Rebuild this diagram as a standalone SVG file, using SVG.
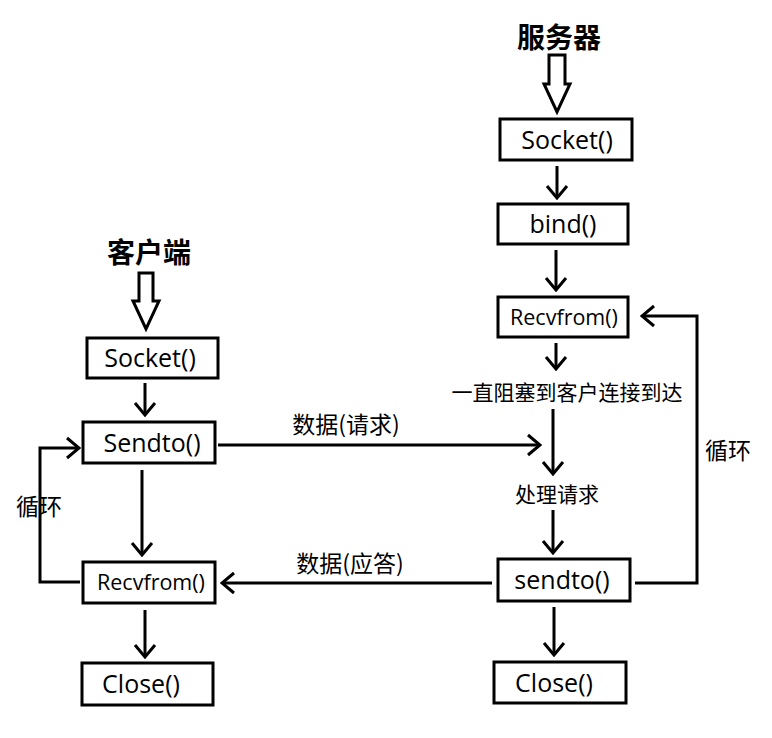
<svg xmlns="http://www.w3.org/2000/svg" width="772" height="738" viewBox="0 0 772 738">
<style>
.box{fill:#fff;stroke:#000;stroke-width:3}
.t{font-family:"Open Sans","Noto Sans CJK SC",sans-serif;font-size:25px;fill:#000;text-anchor:middle}
.s{font-size:21.5px}
.cn{font-family:"Noto Sans CJK SC",sans-serif;font-size:21px;fill:#000;text-anchor:middle}
.lb{font-size:23px}
.title{font-family:"Noto Sans CJK SC",sans-serif;font-size:28px;font-weight:bold;fill:#000;text-anchor:middle}
.ln{fill:none;stroke:#000;stroke-width:3}
.hollow{fill:#fff;stroke:#000;stroke-width:3;stroke-linejoin:miter}
</style>
<defs>
<marker id="ah" markerUnits="userSpaceOnUse" viewBox="-16 -13 18 26" markerWidth="18" markerHeight="26" refX="0" refY="0" orient="auto">
<path d="M-12,-10 L0,0 L-12,10" fill="none" stroke="#000" stroke-width="3"/>
</marker>
</defs>
<rect width="772" height="738" fill="#fff"/>

<g id="server-title">
<text class="title" x="559" y="48">服务器</text>
<path class="hollow" d="M549,55 L565,55 L565,84 L570,84 L557,112 L544,84 L549,84 Z"/>
</g>
<g id="client-title">
<text class="title" x="149" y="263">客户端</text>
<path class="hollow" d="M139,273 L153,273 L153,301 L159,301 L146,329 L133,301 L139,301 Z"/>
</g>

<g id="s-socket"><rect class="box" x="500" y="119" width="132" height="41"/><text class="t" x="567" y="149">Socket()</text></g>
<g id="s-bind"><rect class="box" x="498" y="204" width="130" height="40"/><text class="t" x="563" y="233">bind()</text></g>
<g id="s-recvfrom"><rect class="box" x="498" y="297" width="130" height="40"/><text class="t s" x="564" y="325">Recvfrom()</text></g>
<g id="s-block"><text class="cn" x="567" y="400">一直阻塞到客户连接到达</text></g>
<g id="s-process"><text class="cn" x="557" y="502">处理请求</text></g>
<g id="s-sendto"><rect class="box" x="498" y="559" width="132" height="42"/><text class="t" x="562" y="589">sendto()</text></g>
<g id="s-close"><rect class="box" x="494" y="662" width="132" height="41"/><text class="t" x="554" y="692">Close()</text></g>

<g id="c-socket"><rect class="box" x="87" y="338" width="131" height="40"/><text class="t" x="150" y="367">Socket()</text></g>
<g id="c-sendto"><rect class="box" x="83" y="422" width="132" height="41"/><text class="t" x="152" y="452">Sendto()</text></g>
<g id="c-recvfrom"><rect class="box" x="83" y="562" width="132" height="41"/><text class="t s" x="151" y="590">Recvfrom()</text></g>
<g id="c-close"><rect class="box" x="82" y="663" width="131" height="42"/><text class="t" x="141" y="693">Close()</text></g>

<g id="labels">
<text class="cn lb" x="346" y="433">数据(请求)</text>
<text class="cn lb" x="350" y="572">数据(应答)</text>
<text class="cn lb" x="728" y="459">循环</text>
<text class="cn lb" x="39" y="515">循环</text>
</g>

<g id="connectors">
<line class="ln" x1="557" y1="166" x2="557" y2="198" marker-end="url(#ah)"/>
<line class="ln" x1="556" y1="250" x2="556" y2="290" marker-end="url(#ah)"/>
<line class="ln" x1="556" y1="343" x2="556" y2="369" marker-end="url(#ah)"/>
<line class="ln" x1="553" y1="409" x2="553" y2="474" marker-end="url(#ah)"/>
<line class="ln" x1="553" y1="510" x2="553" y2="553" marker-end="url(#ah)"/>
<line class="ln" x1="554" y1="607" x2="554" y2="655" marker-end="url(#ah)"/>
<polyline class="ln" points="635,583 697,583 697,316 642,316" marker-end="url(#ah)"/>
<line class="ln" x1="218" y1="445" x2="540" y2="445" marker-end="url(#ah)"/>
<line class="ln" x1="492" y1="583" x2="222" y2="583" marker-end="url(#ah)"/>
<line class="ln" x1="145" y1="383" x2="145" y2="415" marker-end="url(#ah)"/>
<line class="ln" x1="142" y1="470" x2="142" y2="555" marker-end="url(#ah)"/>
<line class="ln" x1="145" y1="610" x2="145" y2="657" marker-end="url(#ah)"/>
<polyline class="ln" points="80,582 40,582 40,448 79,448" marker-end="url(#ah)"/>
</g>
</svg>
